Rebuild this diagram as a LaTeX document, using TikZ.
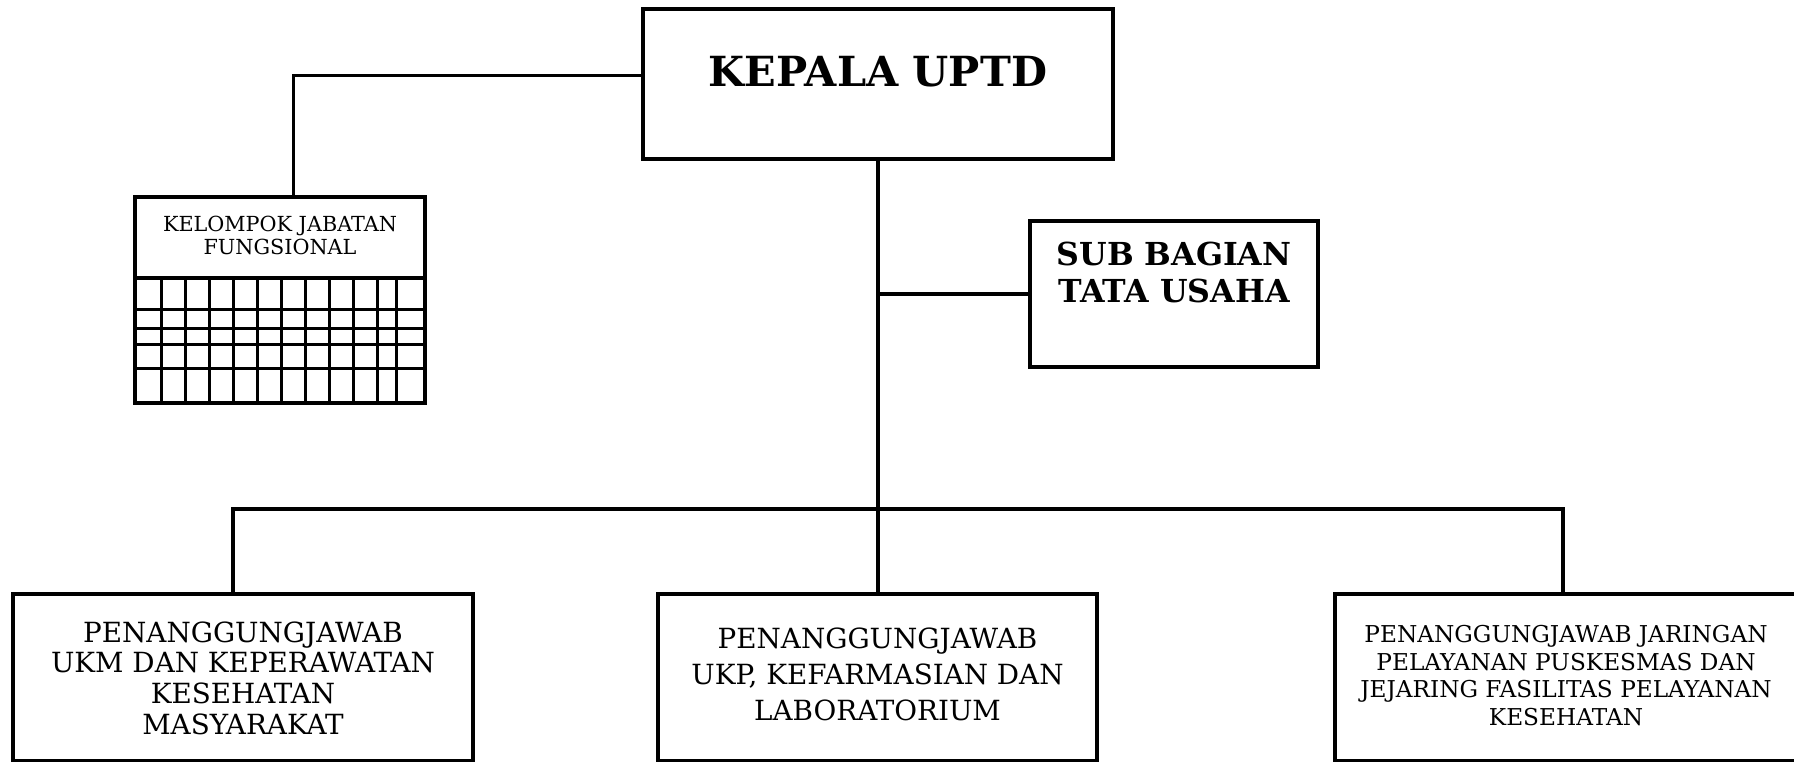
\documentclass[tikz,border=0pt]{standalone}
\usepackage{fontspec}
\setmainfont{DejaVu Serif}
\begin{document}
\begin{tikzpicture}[x=0.01cm,y=-0.01cm,
    box/.style={draw,line width=1pt,inner sep=0pt,outer sep=0pt,align=center},
    link/.style={line width=0.9pt},
    grid line/.style={line width=0.7pt}]
  \useasboundingbox (0,0) rectangle (1794,762);
  \node (kepala) [box,minimum width=47mm,text height=7.8mm,text depth=7.2mm,
    font=\fontsize{11.8}{13}\selectfont\bfseries] at (878,84) {KEPALA UPTD};
  \node (tu) [box,minimum width=28.8mm,text height=8.2mm,text depth=6.4mm,
    font=\fontsize{9}{10.8}\selectfont\bfseries] at (1174,294)
    {SUB BAGIAN\\TATA USAHA};
  \node (kjf) [box,minimum width=29mm,text height=5.8mm,text depth=2.3mm,
    font=\fontsize{5.9}{6.6}\selectfont] at (280,237.5)
    {KELOMPOK JABATAN\\FUNGSIONAL};
  \node (ukm) [box,minimum width=46mm,text height=14mm,text depth=2.7mm,
    font=\fontsize{7.9}{8.7}\selectfont] at (243,677.5)
    {PENANGGUNGJAWAB\\UKM DAN KEPERAWATAN\\KESEHATAN\\MASYARAKAT};
  \node (ukp) [box,minimum width=43.9mm,text height=12.6mm,text depth=4.1mm,
    font=\fontsize{7.9}{10.1}\selectfont] at (877.5,677.5)
    {PENANGGUNGJAWAB\\UKP, KEFARMASIAN DAN\\LABORATORIUM};
  \node (jar) [box,minimum width=46.2mm,text height=13.1mm,text depth=3.6mm,
    font=\fontsize{6.6}{7.8}\selectfont] at (1566,677.5)
    {PENANGGUNGJAWAB JARINGAN\\PELAYANAN PUSKESMAS DAN\\JEJARING FASILITAS PELAYANAN\\KESEHATAN};
  \draw [line width=1pt] (kjf.south west) rectangle ++(290,125);
  \foreach \y in {309.3,328.3,344.3,368.3}{
    \draw [grid line] (135,\y) -- (425,\y);
  }
  \foreach \x in {161.7,185.7,209.3,233.3,257.3,281.3,305.3,329.3,353.3,377.3,396.7}{
    \draw [grid line] (\x,278) -- (\x,403);
  }
  \coordinate (bus) at (878,509);
  \draw [link] (kepala.south) -- (kepala.south |- ukp.north);
  \draw [link] (tu.west) -- (tu.west -| kepala.south);
  \draw [link]
    ([xshift=-1mm]ukm.north)
    |- (bus)
    -| ([xshift=-0.3mm]jar.north)
  ;
  \draw [line width=0.6pt]
    ([yshift=0.85mm]kepala.west)
    -| ([xshift=1.35mm]kjf.north)
  ;
\end{tikzpicture}
\end{document}
